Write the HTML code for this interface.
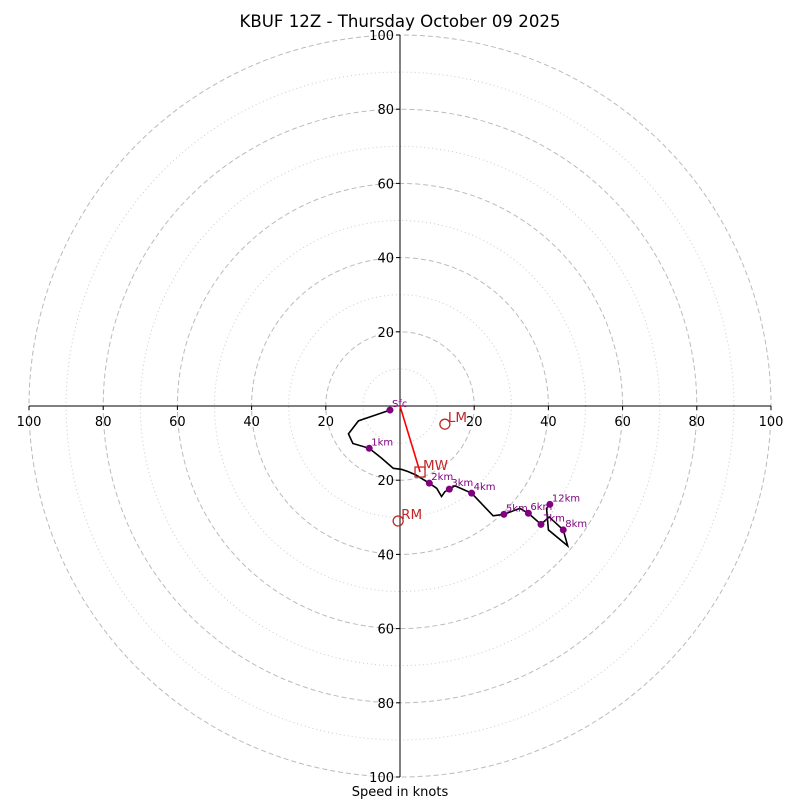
<!DOCTYPE html>
<html><head><meta charset="utf-8"><style>
body{margin:0;background:#fff}
svg{display:block;font-family:"DejaVu Sans","Liberation Sans",sans-serif}
</style></head><body>
<svg id="c" width="800" height="800" viewBox="0 0 800 800">
<text x="400" y="27" text-anchor="middle" font-size="16.6">KBUF 12Z - Thursday October 09 2025</text>
<text x="400" y="796" text-anchor="middle" font-size="13">Speed in knots</text>
</svg>
<script>
const ringsMajor=[20,40,60,80,100];
const ringsMinor=[10,30,50,70,90];
const tickLabels=["20","40","60","80","100"];
const pathU=[-2.7,-11.2,-13.9,-12.7,-8.3,-5.4,-1.8,0.5,2.2,4.3,7.9,9.9,11.2,12.1,13.3,14.8,19.3,25.1,28.0,32.3,34.6,38.0,40.2,44.0,45.2,40.0,39.5,40.4];
const pathV=[-1.1,-4.0,-7.5,-10.1,-11.4,-13.7,-16.8,-17.1,-17.7,-18.6,-20.8,-22.2,-24.4,-23.1,-22.4,-21.5,-23.5,-29.6,-29.2,-27.6,-28.9,-31.9,-29.9,-33.4,-37.7,-33.4,-27.6,-26.5];
const levelNames=["Sfc","1km","2km","3km","4km","5km","6km","7km","8km","12km"];
const levelU=[-2.7,-8.3,7.9,13.3,19.3,28.0,34.6,38.0,44.0,40.4];
const levelV=[-1.1,-11.4,-20.8,-22.4,-23.5,-29.2,-28.9,-31.9,-33.4,-26.5];
const motionNames=["LM","MW","RM"];
const motionU=[12.1,5.4,-0.5];
const motionV=[-4.9,-17.8,-31.0];

const NS="http://www.w3.org/2000/svg",svg=document.getElementById('c');
const cx=400,cy=406,k=3.71;
const X=u=>cx+u*k, Y=v=>cy-v*k;
function mk(t,a,p){const e=document.createElementNS(NS,t);for(const n in a)e.setAttribute(n,a[n]);(p||svg).appendChild(e);return e;}
ringsMinor.forEach(r=>{const e=mk('circle',{cx,cy,r:r*k,fill:'none',stroke:'#ccc','stroke-width':1,'stroke-dasharray':'1,3'});

});
ringsMajor.forEach(r=>{const e=mk('circle',{cx,cy,r:r*k,fill:'none',stroke:'#bbb','stroke-width':1,'stroke-dasharray':'5,3'});

});
let a=mk('line',{x1:X(-100),y1:cy,x2:X(100),y2:cy,stroke:'#000','stroke-width':1});


a=mk('line',{x1:cx,y1:Y(100),x2:cx,y2:Y(-100),stroke:'#000','stroke-width':1});


ringsMajor.forEach((r,i)=>{
 [-1,1].forEach(s=>{
  mk('line',{x1:X(s*r),y1:cy,x2:X(s*r),y2:cy+4,stroke:'#000'});
  let t=mk('text',{x:X(s*r),y:cy+20,'text-anchor':'middle','font-size':13});t.textContent=tickLabels[i];
  
  
  mk('line',{x1:cx-4,y1:Y(s*r),x2:cx,y2:Y(s*r),stroke:'#000'});
  t=mk('text',{x:cx-6,y:Y(s*r)+5,'text-anchor':'end','font-size':13});t.textContent=tickLabels[i];
  
  
 });
});
const hp=mk('polyline',{points:pathU.map((u,i)=>X(u)+','+Y(pathV[i])).join(' '),fill:'none',stroke:'#000','stroke-width':1.6});


levelNames.forEach((n,i)=>{
 const c=mk('circle',{cx:X(levelU[i]),cy:Y(levelV[i]),r:3.5,fill:'#800080'});
 
 
 const t=mk('text',{x:X(levelU[i])+2,y:Y(levelV[i])-3,'font-size':10,fill:'#800080'});t.textContent=n;
 
 
});
const ar=mk('line',{x1:cx,y1:cy,x2:X(motionU[1]),y2:Y(motionV[1]),stroke:'red','stroke-width':1.6});


motionNames.forEach((n,i)=>{
 const x=X(motionU[i]),y=Y(motionV[i]);
 let m;
 if(n==='MW')m=mk('rect',{x:x-5,y:y-5,width:10,height:10,fill:'none',stroke:'#c0282a','stroke-width':1.3});
 else m=mk('circle',{cx:x,cy:y,r:5,fill:'none',stroke:'#c0282a','stroke-width':1.3});
 
 
 const t=mk('text',{x:x+3,y:y-2,'font-size':13.5,fill:'#c0282a'});t.textContent=n;
 
 
});
</script>
</body></html>
